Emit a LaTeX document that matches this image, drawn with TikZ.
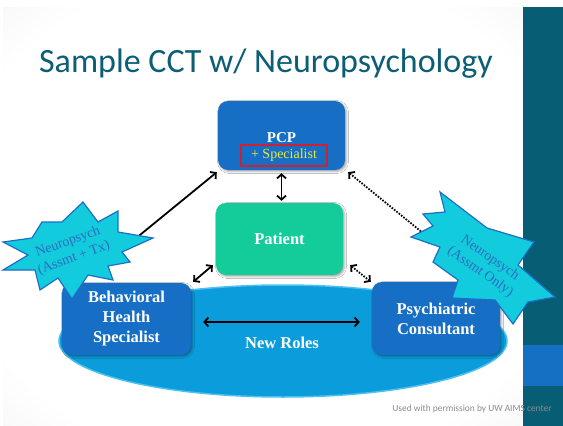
\documentclass[tikz,border=0pt]{standalone}
\usepackage{fontspec}
\setmainfont{Liberation Serif}
\newfontfamily\calib{Carlito}
\usetikzlibrary{arrows.meta,shadows.blur}

\definecolor{barteal}{HTML}{075E74}
\definecolor{bandblue}{HTML}{1570C4}
\definecolor{titleteal}{HTML}{0B5E76}
\definecolor{boxblue}{HTML}{176FC5}
\definecolor{patgreen}{HTML}{14CC99}
\definecolor{ellblue}{HTML}{0B9CDB}
\definecolor{ellrim}{HTML}{4CC0EE}
\definecolor{starfill}{HTML}{12CCDD}
\definecolor{starblue}{HTML}{1E6EC8}
\definecolor{startext}{HTML}{2C6BC0}
\definecolor{specyellow}{HTML}{EAEA3A}
\definecolor{specred}{HTML}{D0202E}
\definecolor{footgray}{HTML}{8C8C8C}

\pgfdeclareradialshading{vignette}{\pgfpoint{0bp}{0bp}}{color(0bp)=(white); color(30bp)=(white); color(50bp)=(black!9); color(71bp)=(black!17)}

\tikzset{
  bluebox/.style={rectangle, rounded corners=10pt, fill=boxblue, text=white,
    font=\bfseries\fontsize{16.5}{20}\selectfont, align=center,
    minimum width=129pt, minimum height=72pt, inner sep=0pt,
    blur shadow={shadow xshift=1.5pt, shadow yshift=-1.5pt, shadow blur radius=2pt, shadow opacity=35}},
  greenbox/.style={bluebox, fill=patgreen},
  conn/.style={line width=1.8pt, >={Straight Barb[length=4pt,width=9pt]}, <->},
  dotconn/.style={conn, dash pattern=on 1.6pt off 1.4pt},
  burst/.style={fill=starfill, draw=starblue, line width=1.2pt, line join=miter},
  bursttext/.style={text=startext, font=\fontsize{14}{17}\selectfont, align=center, inner sep=0pt}
}

\begin{document}
\begin{tikzpicture}[x=1pt,y=-1pt]
\useasboundingbox (0,0) rectangle (563,426);
\fill[white] (0,0) rectangle (563,426);
\shade[shading=vignette] (3,7) rectangle (523,426);
\fill[barteal] (523,7) rectangle (563,426);
\fill[bandblue] (523,345) rectangle (563,386);

\node[anchor=base, text=titleteal, font=\calib\fontsize{34}{40}\selectfont, inner sep=0pt] (title) at (266,72) {Sample CCT w/ Neuropsychology};

% ellipse
\path[fill=ellblue, draw=ellrim, line width=1.5pt] (283,341) ellipse [x radius=224, y radius=56];

% boxes
\node[bluebox] (bh) at (126.5,319) {Behavioral\\Health\\Specialist};
\node[bluebox, minimum width=128pt, minimum height=73pt] (psych) at (436,318.5) {Psychiatric\\Consultant};
\node[bluebox, minimum width=127pt, minimum height=69pt] (pcp) at (281.5,135.5) {};
\node[anchor=base, text=white, font=\bfseries\fontsize{15}{18}\selectfont, inner sep=0pt] (pcplabel) at (281.5,142) {PCP};
\node[draw=specred, line width=1.2pt, text=specyellow, font=\fontsize{14}{16}\selectfont, minimum width=86pt, minimum height=21pt, inner sep=0pt] (spec) at (284,155.5) {+ Specialist};
\node[greenbox, minimum width=127pt] (patient) at (279.5,239) {Patient};
\node[text=white, font=\bfseries\fontsize{16.5}{20}\selectfont, inner sep=0pt] (newroles) at (282,343) {New Roles};

% connectors
\draw[conn] ([xshift=12pt,yshift=-3pt]bh.east) -- ([xshift=-12pt,yshift=-3.5pt]psych.west);
\draw[conn, shorten <=3pt, shorten >=2pt] (pcp.south) -- (pcp.south |- patient.north);
\draw[conn] ([xshift=38pt,yshift=15pt]bh.north west) -- ([xshift=-1pt,yshift=-2pt]pcp.south west);
\draw[conn] ([xshift=2pt,yshift=1pt]bh.north east) -- ([xshift=-3pt,yshift=10pt]patient.south west);
\draw[dotconn] ([xshift=3pt,yshift=-2pt]pcp.south east) -- ([xshift=-1pt,yshift=39pt]psych.north);
\draw[dotconn] ([xshift=7pt,yshift=10pt]patient.south east) -- ([xshift=-1pt,yshift=0pt]psych.north west);

% starbursts
\path[burst] (83,202) -- (98,222) -- (118,211) -- (118,232) -- (153,238) -- (122,252)
  -- (130,262) -- (108,266) -- (113,280) -- (88,275) -- (72,299) -- (58,278)
  -- (40,290) -- (35,270) -- (3,270) -- (28,255) -- (3,242) -- (32,238)
  -- (42,222) -- (62,222) -- cycle;
\node[bursttext, rotate=20] (lstar) at (71,250) {Neuropsych\\(Assmt + Tx)};

\path[burst] (440,192) -- (487,228) -- (534,242) -- (518,265) -- (555,297) -- (528,302)
  -- (513,324) -- (495,300) -- (452,298) -- (458,280) -- (433,262) -- (440,247)
  -- (411,237) -- (433,226) -- (423,214) -- (445,212) -- cycle;
\node[bursttext, rotate=-35] (rstar) at (485,265) {Neuropsych\\(Assmt Only)};

\node[text=footgray, font=\calib\fontsize{9.4}{11}\selectfont, inner sep=0pt] (foot) at (472,409) {Used with permission by UW AIMS center};
\end{tikzpicture}
\end{document}
